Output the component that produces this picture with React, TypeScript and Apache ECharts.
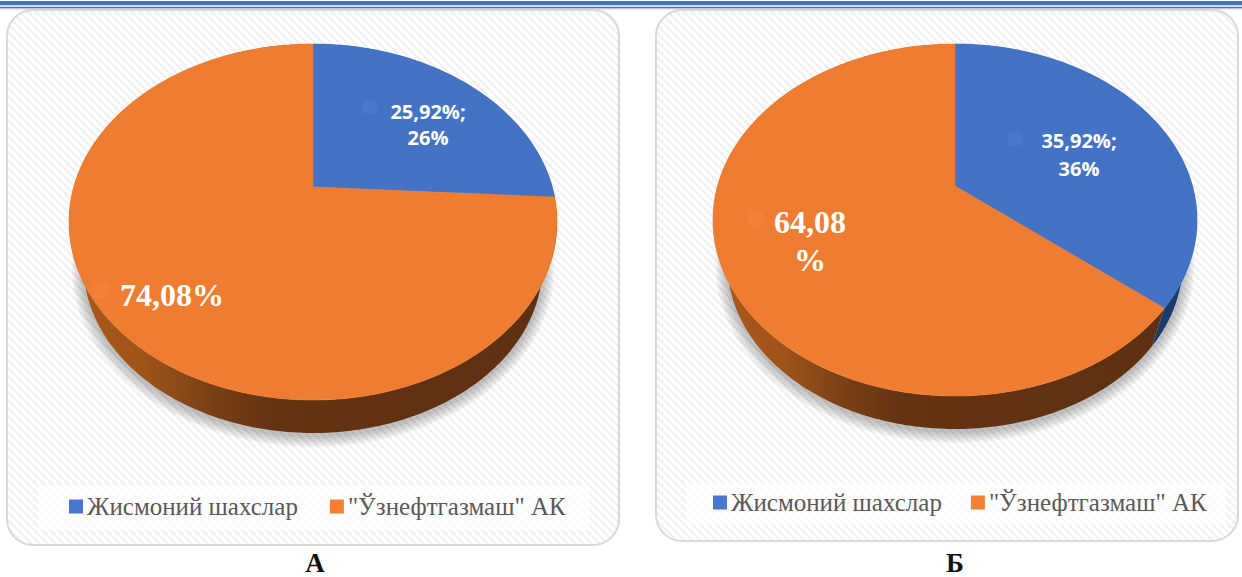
import React, { useEffect, useRef } from "react";
import * as echarts from "echarts";

const categories = ["Жисмоний шахслар", '"Ўзнефтгазмаш" АК'];
const valuesA = [25.92, 74.08];
const valuesB = [35.92, 64.08];
const labelsA = ["25,92%;\n26%", "74,08%"];
const labelsB = ["35,92%;\n36%", "64,08\n%"];
const captions = ["А", "Б"];

const faceColors = ["#4472c4", "#ee7d31"];
const legendColors = ["#4775cf", "#f4812f"];
const SANS = '"Open Sans", "Noto Sans", sans-serif';
const SERIF = '"Liberation Serif", serif';

const wallFill = [
  {
    type: "linear", x: 0, y: 0, x2: 1, y2: 0,
    colorStops: [{ offset: 0, color: "#1b3a70" }, { offset: 1, color: "#1b3a70" }],
  },
  {
    type: "linear", x: 0, y: 0, x2: 1, y2: 0,
    colorStops: [
      { offset: 0, color: "#a9591c" },
      { offset: 0.14, color: "#a25519" },
      { offset: 0.3, color: "#773f16" },
      { offset: 0.42, color: "#643312" },
      { offset: 1, color: "#5e3012" },
    ],
  },
];

type Pie = {
  cx: number; cy: number; top: number; bottom: number; rx: number; depth: number;
  values: number[]; labels: string[]; smallLine: number;
  labelPos: number[][]; keyPos: number[][]; keyFill: string[];
};

const pieA: Pie = {
  cx: 313, cy: 187, top: 44, bottom: 400, rx: 244, depth: 33,
  values: valuesA, labels: labelsA, smallLine: 26,
  labelPos: [[428, 124], [172, 295]],
  keyPos: [[363, 100], [94, 283]],
  keyFill: ["#4a77ca", "#f38038"],
};
const pieB: Pie = {
  cx: 955, cy: 186, top: 44, bottom: 396, rx: 242, depth: 33,
  values: valuesB, labels: labelsB, smallLine: 28,
  labelPos: [[1079, 154], [810, 241]],
  keyPos: [[1008, 132], [748, 212]],
  keyFill: ["#4a77ca", "#f38038"],
};

// the lower rim of the disc is a slightly smaller copy of the top, seen further away
const RIM_SCALE = 0.94;
// widths of the stacked translucent strokes that make the soft shadow under the rim
const SHADOW_WIDTHS = [24, 20, 16, 12, 8, 4];

function projector(p: Pie) {
  const up = p.cy - p.top;
  const down = p.bottom - p.cy;
  const ratio = down / up;
  const k = (ratio - 1) / (ratio + 1);
  const b = up * (1 + k);
  const a = p.rx * Math.sqrt(1 - k * k);
  const vanishY = (p.bottom + p.depth - p.bottom * RIM_SCALE) / (1 - RIM_SCALE);
  return (frac: number, lower = false) => {
    const t = frac * Math.PI * 2;
    const X = Math.sin(t);
    const Y = Math.cos(t);
    const w = 1 + k * Y;
    const x = p.cx + (a * X) / w;
    const y = p.cy - (b * Y) / w;
    if (!lower) return [x, y];
    return [p.cx + (x - p.cx) * RIM_SCALE, vanishY + (y - vanishY) * RIM_SCALE];
  };
}

function sliceRender(p: Pie, index: number) {
  const proj = projector(p);
  const total = p.values.reduce((s, v) => s + v, 0);
  return (_params: any, api: any) => {
    const value = api.value(0);
    const startValue = api.value(1);
    const from = startValue / total;
    const to = (startValue + value) / total;
    const n = Math.max(8, Math.ceil((to - from) * 360));
    const arc: number[][] = [];
    const low: number[][] = [];
    for (let i = 0; i <= n; i++) {
      const f = from + ((to - from) * i) / n;
      arc.push(proj(f));
      low.push(proj(f, true));
    }
    const [kx, ky] = p.keyPos[index];
    const [lx, ly] = p.labelPos[index];
    const big = index === 1;
    const shadow = SHADOW_WIDTHS.map((w) => ({
      type: "polyline",
      z2: 0,
      y: 2,
      shape: { points: low },
      style: { fill: "none", stroke: "rgba(0,0,0,0.045)", lineWidth: w },
    }));
    return {
      type: "group",
      children: [
        ...shadow,
        {
          type: "polygon",
          z2: big ? 2 : 1,
          shape: { points: [...arc, ...low.slice().reverse()] },
          style: { fill: wallFill[index] },
        },
        {
          type: "polygon",
          z2: 10,
          shape: { points: [[p.cx, p.cy], ...arc] },
          style: { fill: faceColors[index], stroke: faceColors[index], lineWidth: 0.6 },
        },
        {
          type: "rect",
          z2: 11,
          shape: big ? { x: kx, y: ky, width: 15, height: 15 } : { x: kx, y: ky, width: 14, height: 14 },
          style: { fill: p.keyFill[index] },
        },
        {
          type: "text",
          z2: 12,
          x: lx,
          y: ly,
          style: {
            text: p.labels[index],
            fill: "#ffffff",
            align: "center",
            verticalAlign: "middle",
            fontFamily: big ? SERIF : SANS,
            fontWeight: "bold",
            fontSize: big ? 32 : 20,
            lineHeight: big ? 38 : p.smallLine,
          },
        },
      ],
    };
  };
}

function sliceSeries(p: Pie) {
  let acc = 0;
  return p.values.map((v, i) => {
    const start = acc;
    acc += v;
    return {
      type: "custom",
      name: categories[i],
      coordinateSystem: "none",
      silent: true,
      clip: false,
      itemStyle: { color: faceColors[i] },
      renderItem: sliceRender(p, i),
      data: [[v, start]],
    };
  });
}

function stripeTile() {
  const size = 8;
  const c = document.createElement("canvas");
  c.width = size;
  c.height = size;
  const g = c.getContext("2d")!;
  g.fillStyle = "#ffffff";
  g.fillRect(0, 0, size, size);
  g.strokeStyle = "#f1f1f1";
  g.lineWidth = 2.6;
  for (const o of [-size, 0, size]) {
    g.beginPath();
    g.moveTo(o, 0);
    g.lineTo(o + size, size);
    g.stroke();
  }
  return c.toDataURL();
}

function legendFor(left: number, top: number, itemGap: number) {
  return {
    left,
    top,
    orient: "horizontal",
    padding: 0,
    itemGap,
    itemWidth: 14,
    itemHeight: 14,
    icon: "rect",
    selectedMode: false,
    textStyle: { fontFamily: SERIF, fontSize: 25, color: "#595959", padding: [0, 0, 0, -1] },
    data: categories.map((name, i) => ({ name, itemStyle: { color: legendColors[i] } })),
  };
}

export default function App() {
  const ref = useRef<HTMLDivElement>(null);
  useEffect(() => {
    const chart = echarts.init(ref.current!, null, { renderer: "svg" });
    const pattern = { image: stripeTile(), repeat: "repeat", imageWidth: 8, imageHeight: 8 };
    const card = (x: number, y: number, width: number, height: number) => ({
      type: "rect",
      z: 0,
      shape: { x, y, width, height, r: 26 },
      style: { fill: pattern, stroke: "#d9d9d9", lineWidth: 2 },
    });
    const box = (x: number, y: number, width: number, height: number) => ({
      type: "rect",
      z: 0,
      shape: { x, y, width, height },
      style: { fill: "rgba(255,255,255,0.72)" },
    });
    const rule = (y: number, height: number, fill: string) => ({
      type: "rect",
      z: 0,
      shape: { x: 0, y, width: 1242, height },
      style: { fill },
    });
    const caption = (text: string, x: number, y: number) => ({
      type: "text",
      z: 0,
      x,
      y,
      style: {
        text,
        fill: "#111111",
        align: "center",
        verticalAlign: "middle",
        fontFamily: SERIF,
        fontWeight: "bold",
        fontSize: 27,
      },
    });
    chart.setOption({
      animation: false,
      backgroundColor: "#ffffff",
      legend: [legendFor(69, 494, 32), legendFor(713, 490, 29)],
      graphic: {
        elements: [
          rule(1, 4.3, "#4472c4"),
          rule(6.8, 1.6, "#4472c4"),
          rule(8.6, 1, "#c9d6ee"),
          card(7, 10, 612, 535),
          card(656, 10, 582, 531),
          box(38, 485, 552, 45),
          box(686, 482, 540, 43),
          caption(captions[0], 315, 563),
          caption(captions[1], 955, 563),
        ],
      },
      series: [...sliceSeries(pieA), ...sliceSeries(pieB)],
    });
    return () => chart.dispose();
  }, []);
  return (
    <div
      ref={ref}
      style={{ position: "absolute", left: 0, top: 0, width: 1242, height: 577 }}
    />
  );
}
